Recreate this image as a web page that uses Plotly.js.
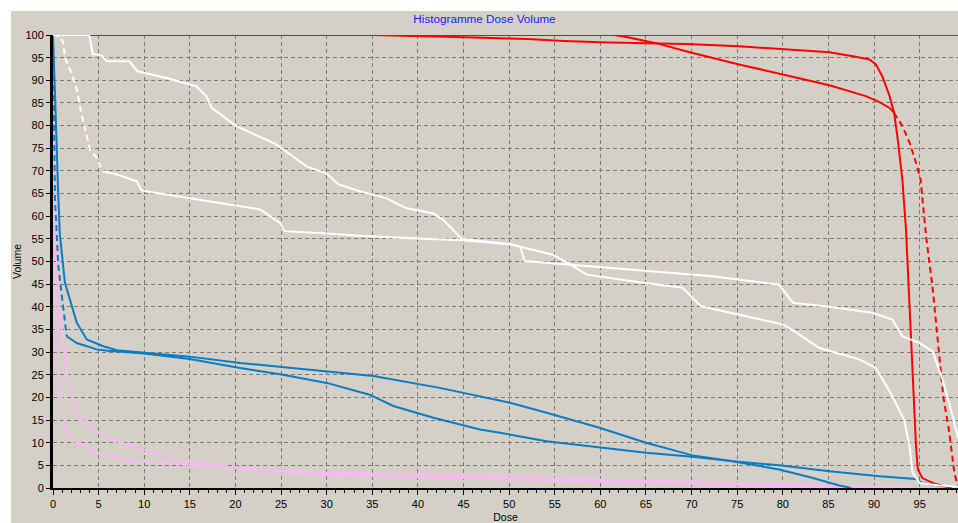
<!DOCTYPE html>
<html>
<head>
<meta charset="utf-8">
<script src="https://cdn.plot.ly/plotly-3.0.1.min.js"></script>
<style>
html,body{margin:0;padding:0;background:#ffffff;width:958px;height:523px;overflow:hidden;}
#chart{position:absolute;left:11px;top:11px;width:947px;height:512px;}
</style>
</head>
<body>
<div id="chart"></div>
<script>
// ---- Data (dose %, volume %) ----
const xTicks = [0,5,10,15,20,25,30,35,40,45,50,55,60,65,70,75,80,85,90,95];
const yTicks = [0,5,10,15,20,25,30,35,40,45,50,55,60,65,70,75,80,85,90,95,100];

const frameDose = [0, 99.2];
const frameVol  = [100, 100];

// Red 1 (solid, sharp fall-off)
const red1Dose = [0,35,43,48,52,56,60,65,69.4,75.2,80.7,85.1,87.7,89.5,90.2,90.9,91.7,92.2,92.6,93.1,93.5,93.9,94.2,94.4,94.6,94.8,95.3,96,96.6,97.5,98.5];
const red1Vol  = [100,100,99.6,99.4,99.1,98.7,98.4,98.2,98.0,97.5,96.8,96.2,95.3,94.6,93.5,90.9,86.5,82.8,76.9,68.1,57.1,38.7,24,16,9.2,4.1,2.2,1.5,1.0,0.5,0.2];
// Red 2 (solid part, then dashed tail)
const red2Dose = [0,61.5,63,64.5,66.1,69.8,75.2,80,85.1,89.1,90.6,91.7,92.2];
const red2Vol  = [100,100,99.5,98.8,98.2,96.2,93.5,91.3,88.9,86.5,85.2,83.9,82.8];
const red2TailDose = [92.2,93.1,93.9,94.6,95.1,95.7,96.4,97.2,97.6,98.2,98.8,99.1,99.2];
const red2TailVol  = [82.8,79.9,76.2,71.8,68.1,55.6,44.5,27.6,20,12.9,3.4,1.0,0.5];

// White 1 (solid)
const white1Dose = [0,3.98,4.35,5.33,5.88,8.36,9.24,12.45,15.7,16.8,17.4,20.1,24.5,27.8,30,31.3,33.6,35.1,36.5,38.7,41.7,42.7,44.8,50.1,51.2,51.7,57,64.3,72,79.6,80.4,81.1,84.7,89.8,92,93.1,95,96.4,97.5,98.6,99.2];
const white1Vol  = [100,100,95.8,95.5,94.2,94.2,92,90.5,88.7,86.5,83.9,79.9,75.8,71,69.4,67,65.5,64.8,64,61.8,60.6,59.3,55,53.8,53.3,50.1,49.2,48.1,46.8,44.9,42.7,40.9,40.1,38.7,37.2,33.5,32,30.2,24,16,11];
// White 2 (dashed start, then solid)
const white2HeadDose = [0,0.77,1.13,1.3,2.0,2.6,3.1,3.7,4.05,4.8,5.4];
const white2HeadVol  = [100,99.7,98.3,95,91.7,88,82.8,77.7,74.7,72.9,69.9];
const white2Dose = [5.4,7,9.2,9.7,11.7,15,17.9,20.5,22.7,24.9,25.4,30,33.6,38.7,44.8,50.1,51.2,54.8,57,58.5,64.3,69,71.05,75.2,80,81.5,84,88.4,90.2,92,93.3,93.9,94.2,95,97,99.2];
const white2Vol  = [69.9,69.2,67.7,65.7,65,64,63.1,62.2,61.5,58.5,56.7,56.2,55.7,55.2,54.7,53.8,53.3,51.5,49,47.1,45.4,44.2,40.1,38.3,36.1,34.3,30.9,28.4,26.5,20.3,15,9.2,3.4,1.1,0.6,0.3];

// Pink 1 (solid)
const pink1Dose = [0,0.1,0.3,0.45,0.58,1.13,1.68,2.4,3.1,4.8,7,9.9,14.6,19.7,29.2,40,46.8,60,70,80,88,95];
const pink1Vol  = [100,80,60,50,41.6,32,23.2,18,15.1,12.5,10.3,8.5,5.9,4.5,3.4,2.9,2.5,1.8,1.3,0.8,0.3,0];
// Pink 2 (dashed start, then solid)
const pink2HeadDose = [0,0.1,0.2,0.4,0.95,1.3];
const pink2HeadVol  = [100,75,45,26.9,19.5,12.9];
const pink2Dose = [1.3,2.6,4.8,8.8,14.6,19.7,29.2,40,46.8,60,70,80,88,95];
const pink2Vol  = [12.9,10,7.8,5.9,5.2,4.5,3.0,2.4,2.0,1.4,1.0,0.5,0.1,0];

// Blue 1 (solid)
const blue1Dose = [0,0.15,0.3,0.4,0.55,0.75,1.3,1.86,2.2,2.6,3.7,5.5,7,10.3,15,20.5,26,35.1,42.4,46.8,50.1,54.1,59.9,65,70.1,74.5,79.6,83.3,86.2,87.5];
const blue1Vol  = [100,92,83,76,66,56,45.4,41.6,39.4,36.5,32.8,31.3,30.4,29.8,29,27.6,26.5,24.7,22.1,20.3,18.8,16.6,13.3,10,7.2,5.9,4.1,2.2,0.55,0];
// Blue 2 (dashed start, then solid)
const blue2HeadDose = [0,0.1,0.22,0.58,0.95,1.3,1.5];
const blue2HeadVol  = [100,80,63.7,49,43,37.2,33.5];
const blue2Dose = [1.5,2.6,4.8,6,10,15,20.5,24.9,30,34.7,37.3,41.7,46.8,49,54.1,59.9,65,70.1,74.5,79.6,85.1,90.6,94.6,95.3,97.5,98.5];
const blue2Vol  = [33.5,32,30.6,30.3,29.7,28.5,26.5,25.1,23.2,20.6,18.1,15.5,12.9,12.2,10.3,8.9,7.8,6.9,5.9,5.0,3.7,2.6,2.0,1.1,0.3,0.1];

// ---- Styles ----
const RED = '#ff0000', WHITE = '#ffffff', PINK = '#f8b8f2', BLUE = '#0a7cc4';
const DASH = '6px,4px';

function tr(x, y, color, dash, width) {
  return {x: x, y: y, type: 'scatter', mode: 'lines',
          line: {color: color, width: width || 2, dash: dash || 'solid'},
          hoverinfo: 'skip', showlegend: false};
}

const data = [
  tr(frameDose, frameVol, '#303030', 'solid', 1.5),
  tr(pink1Dose, pink1Vol, PINK, 'solid', 2.2),
  tr(pink2HeadDose, pink2HeadVol, PINK, DASH, 2.2),
  tr(pink2Dose, pink2Vol, PINK, 'solid', 2.2),
  tr(blue1Dose, blue1Vol, BLUE),
  tr(blue2HeadDose, blue2HeadVol, BLUE, DASH),
  tr(blue2Dose, blue2Vol, BLUE),
  tr(red1Dose, red1Vol, RED),
  tr(red2Dose, red2Vol, RED),
  tr(red2TailDose, red2TailVol, RED, DASH),
  tr(white1Dose, white1Vol, WHITE),
  tr(white2HeadDose, white2HeadVol, WHITE, DASH),
  tr(white2Dose, white2Vol, WHITE)
];

const BG = '#d4d0c8';
const tickFont = {family: 'Liberation Sans, Arial, sans-serif', size: 11, color: '#000000'};

const layout = {
  width: 947, height: 512,
  margin: {l: 42, r: 0, t: 24, b: 35, pad: 0},
  paper_bgcolor: BG, plot_bgcolor: BG,
  title: {text: 'Histogramme Dose Volume', x: 0.5, xref: 'container', xanchor: 'center',
          y: 1 - 8/512, yref: 'container', yanchor: 'middle',
          font: {family: 'Liberation Sans, Arial, sans-serif', size: 11.7, color: '#1a1aff'}},
  xaxis: {
    range: [0, 99.2], tickmode: 'array', tickvals: xTicks, ticktext: xTicks.map(String),
    showgrid: true, gridcolor: '#7a7a7a', gridwidth: 1, griddash: '4px,3px',
    zeroline: false, showline: true, linecolor: '#000000', linewidth: 2,
    ticks: 'outside', ticklen: 5, tickcolor: '#000000', tickwidth: 1,
    minor: {dtick: 1, tick0: 0, ticks: 'outside', ticklen: 3, tickcolor: '#000000', showgrid: false},
    tickfont: tickFont, automargin: false, fixedrange: true,
    title: {text: 'Dose', font: {family: 'Liberation Sans, Arial, sans-serif', size: 10.5, color: '#000000'}, standoff: 5}
  },
  yaxis: {
    range: [0, 100], tickmode: 'array', tickvals: yTicks, ticktext: yTicks.map(String),
    showgrid: true, gridcolor: '#7a7a7a', gridwidth: 1, griddash: '4px,3px',
    zeroline: false, showline: true, linecolor: '#000000', linewidth: 3,
    ticks: 'outside', ticklen: 4, tickcolor: '#000000', tickwidth: 1,
    tickfont: tickFont, automargin: false, fixedrange: true,
    title: {text: 'Volume', font: {family: 'Liberation Sans, Arial, sans-serif', size: 10.5, color: '#000000'}, standoff: 4}
  }
};

Plotly.newPlot('chart', data, layout, {staticPlot: true, displayModeBar: false});
</script>
</body>
</html>
